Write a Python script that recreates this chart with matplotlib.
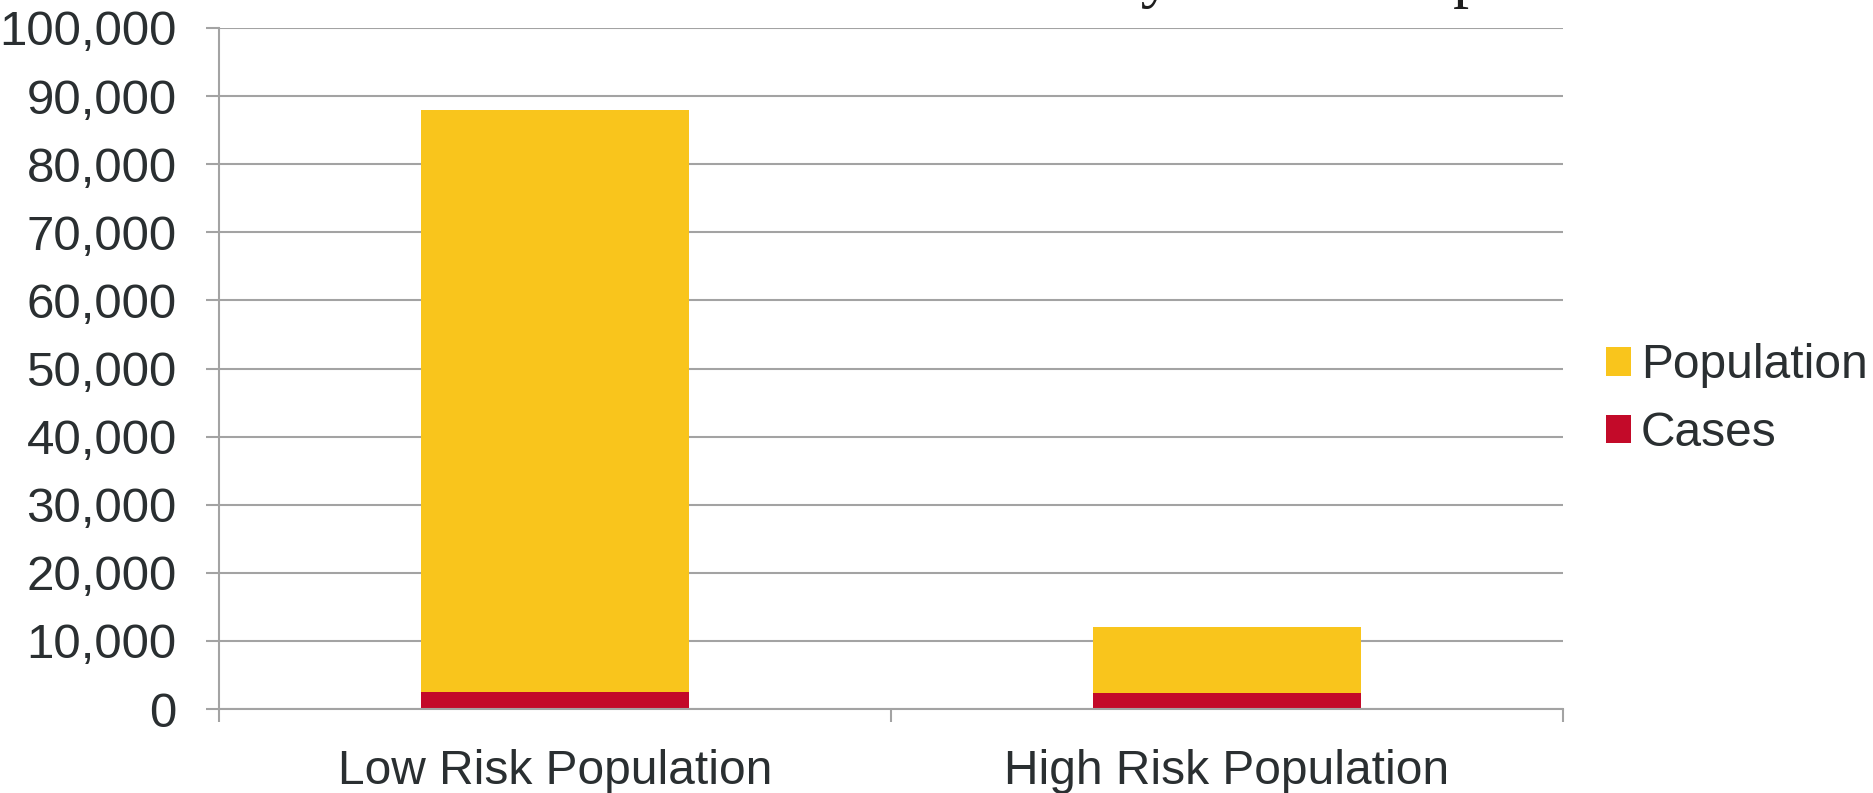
import matplotlib
matplotlib.use("Agg")
import matplotlib.pyplot as plt
from matplotlib.patches import Patch
from matplotlib.ticker import FuncFormatter, MultipleLocator

categories = ["Low Risk Population", "High Risk Population"]
population = [88000, 12000]
cases = [2500, 2300]
series_names = ["Population", "Cases"]

YELLOW = "#F9C51C"
RED = "#C30A29"
TEXT = "#2A2F31"
GRID = "#A3A3A3"

plt.rcParams["font.family"] = ["Liberation Sans", "DejaVu Sans"]

fig = plt.figure(figsize=(18.74, 7.93), dpi=100)
ax = fig.add_axes([0.1169, 0.1059, 0.834 - 0.1169, 0.9647 - 0.1059])

x = list(range(len(categories)))
ax.bar(x, population, width=0.4, color=YELLOW, zorder=3)
ax.bar(x, cases, width=0.4, color=RED, zorder=4)

ax.set_xlim(-0.5, 1.5)
ax.set_ylim(0, 100000)
ax.yaxis.set_major_locator(MultipleLocator(10000))
ax.yaxis.set_major_formatter(FuncFormatter(lambda v, p: f"{int(v):,}"))
ax.grid(axis="y", color=GRID, linewidth=1.5, zorder=0)

ax.set_xticks([-0.5, 0.5, 1.5])
ax.set_xticklabels([])
ax.set_xticks(x, minor=True)
ax.set_xticklabels(categories, minor=True)
ax.tick_params(axis="x", which="major", direction="out", length=9.5, width=1.5, color=GRID)
ax.tick_params(axis="x", which="minor", length=0, pad=28.5, labelsize=34.5, labelcolor=TEXT)
ax.tick_params(axis="y", direction="out", length=9.5, width=1.5, color=GRID,
               labelsize=35.5, labelcolor=TEXT, pad=21)

for s in ["top", "right"]:
    ax.spines[s].set_visible(False)
for s in ["left", "bottom"]:
    ax.spines[s].set_color(GRID)
    ax.spines[s].set_linewidth(1.5)
ax.spines["bottom"].set_zorder(5)

handles = [Patch(facecolor=YELLOW), Patch(facecolor=RED)]
fig.legend(handles, series_names, loc="center left", bbox_to_anchor=(0.857, 0.496),
           frameon=False, fontsize=34.5, labelcolor=TEXT,
           handlelength=0.53, handleheight=0.53, handletextpad=0.2,
           labelspacing=0.47, borderaxespad=0, borderpad=0)

fig.text(944 / 1874, 1 + 5 / 793, "Cases by Risk Group", family=["Liberation Serif", "DejaVu Serif"],
         fontsize=46, color="#1E1E1E", ha="left", va="baseline")

fig.savefig("out.png", dpi=100, facecolor="white")
